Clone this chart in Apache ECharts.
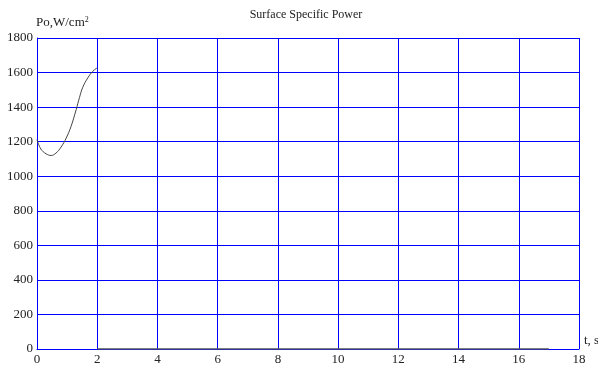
<!DOCTYPE html>
<html>
<head>
<meta charset="utf-8">
<script src="https://cdn.jsdelivr.net/npm/echarts@6/dist/echarts.min.js"></script>
<style>html,body{margin:0;padding:0;background:#fff}#c{width:598px;height:367px}</style>
</head>
<body>
<div id="c"></div>
<script>
var title = 'Surface Specific Power';
var xTicks = [0, 2, 4, 6, 8, 10, 12, 14, 16, 18];
var yTicks = [0, 200, 400, 600, 800, 1000, 1200, 1400, 1600, 1800];
var tValues = [0, 0.13, 0.3, 0.47, 0.63, 0.8, 0.97, 1.13, 1.3, 1.41, 1.52, 1.69, 1.85, 1.97, 2.0];
var powerValues = [1211, 1157, 1130, 1120, 1134, 1169, 1221, 1288, 1385, 1455, 1515, 1570, 1607, 1624, 1626];
var zeroT = [2, 17];
var zeroValues = [0, 0];

var font = 'Liberation Serif, Times New Roman, serif';
var chart = echarts.init(document.getElementById('c'));
chart.setOption({
  animation: false,
  backgroundColor: '#fff',
  title: {
    text: title, left: 301, top: 4, textAlign: 'center',
    textStyle: { fontFamily: font, fontSize: 12, fontWeight: 'normal', color: '#222' }
  },
  grid: { left: 37, right: 19, top: 38, bottom: 18, containLabel: false, outerBoundsMode: 'none' },
  xAxis: {
    type: 'value', min: xTicks[0], max: xTicks[xTicks.length - 1], interval: 2,
    name: 't, s', nameLocation: 'end', nameGap: 5, nameMoveOverlap: false,
    nameTextStyle: { fontFamily: font, fontSize: 13, color: '#222', verticalAlign: 'bottom', padding: [0, 0, 2, 0] },
    axisLine: { show: true, lineStyle: { color: '#0000ff', width: 1 } },
    axisTick: { show: false },
    axisLabel: { fontFamily: font, fontSize: 13, color: '#222', margin: 4, formatter: function (v) { return String(v); } },
    splitLine: { show: true, lineStyle: { color: '#0000ff', width: 1 } }
  },
  yAxis: {
    type: 'value', min: yTicks[0], max: yTicks[yTicks.length - 1], interval: 200,
    name: '{a|Po,W/cm}{s|2}', nameLocation: 'end', nameGap: 8, nameMoveOverlap: false,
    nameTextStyle: {
      align: 'left', padding: [0, 0, 0, -1],
      rich: {
        a: { fontFamily: font, fontSize: 13, color: '#222' },
        s: { fontFamily: font, fontSize: 8, color: '#222', verticalAlign: 'top', padding: [0, 0, 6, 0] }
      }
    },
    axisLine: { show: true, lineStyle: { color: '#0000ff', width: 1 } },
    axisTick: { show: false },
    axisLabel: { fontFamily: font, fontSize: 13, color: '#222', margin: 4, formatter: function (v) { return String(v); } },
    splitLine: { show: true, lineStyle: { color: '#0000ff', width: 1 } }
  },
  series: [
    {
      type: 'line', smooth: 0.4, showSymbol: false,
      data: tValues.map(function (t, i) { return [t, powerValues[i]]; }),
      lineStyle: { color: '#444', width: 1 }
    },
    {
      type: 'line', showSymbol: false,
      data: zeroT.map(function (t, i) { return [t, zeroValues[i]]; }),
      lineStyle: { color: '#555', width: 1.5 }
    }
  ]
});
</script>
</body>
</html>
